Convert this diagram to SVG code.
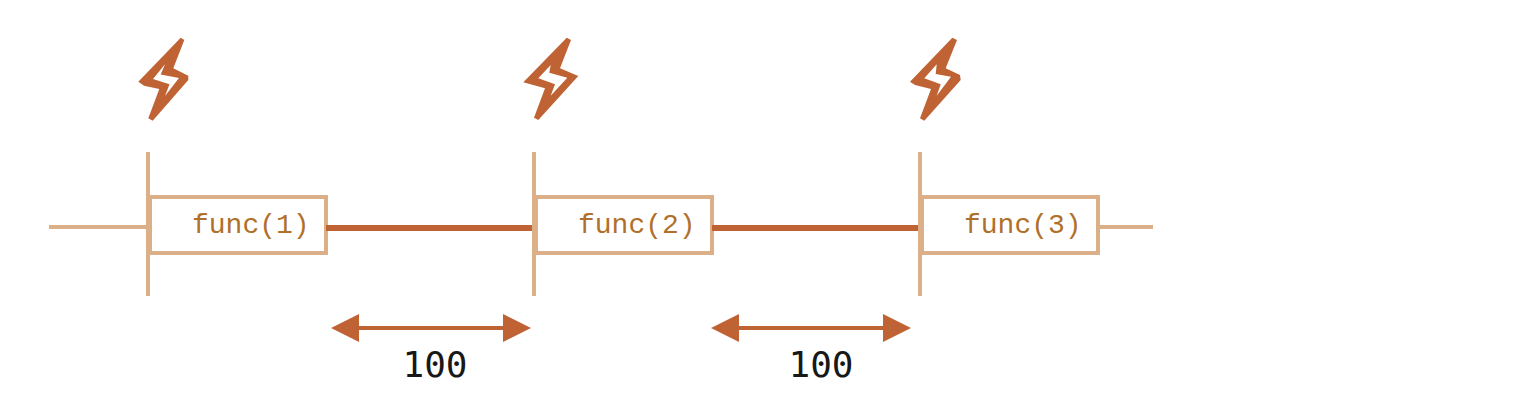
<svg xmlns="http://www.w3.org/2000/svg" width="1540" height="406" viewBox="0 0 1540 406">
<style>
.tick,.thin,.box{stroke:#DBAF88;stroke-width:4;fill:none}
.box{fill:#fff}
.thick{stroke:#C06334;stroke-width:6;fill:none}
.dim{stroke:#C06334;stroke-width:4;fill:none;marker-start:url(#a);marker-end:url(#a)}
.bolt{fill:#C06334;fill-rule:evenodd}
.f{font:28px "Liberation Mono","DejaVu Sans Mono",monospace;fill:#B0702A}
.n{font:36px "DejaVu Sans Mono","Liberation Mono",monospace;fill:#181818;text-anchor:middle}
</style>
<defs>
<marker id="a" markerUnits="userSpaceOnUse" markerWidth="28" markerHeight="28" refX="14" refY="14" orient="auto-start-reverse"><path d="M0 0L28 14L0 28Z" fill="#C06334"/></marker>
</defs>
<g id="bolt1"><path class="bolt" d="M180.7 37.7L184.3 40L173.3 68.3L188.3 75.7L188.3 80L152.7 120.7L148.3 118.3L159.3 89L144 85.7L138.3 81.7ZM165 64.3L153 79L169.5 84.3L165 96L179 78L160.7 74.5Z"/></g>
<g id="bolt2"><path class="bolt" d="M566.7 37.7L571 40L560 68.3L578.3 76L538.3 120L534 117.7L545 88.3L523.3 82.3ZM550.7 65L538.3 78.3L555 84.3L550.7 95.7L567.3 77.7L549.3 72.7Z"/></g>
<g id="bolt3"><path class="bolt" d="M952.3 37.7L957 40L945.7 68.3L960 75L960.7 80L924.3 120.7L920 118.3L931 89L915 85L910 81.7ZM936.7 64.3L924.3 78.3L940.7 84.3L936.7 95.7L951 76.7L935.7 74Z"/></g>
<g id="func1"><rect class="box" x="150" y="197" width="176" height="56"/><text class="f" x="192" y="233">func(1)</text></g>
<g id="func2"><rect class="box" x="536" y="197" width="176" height="56"/><text class="f" x="578" y="233">func(2)</text></g>
<g id="func3"><rect class="box" x="922" y="197" width="176" height="56"/><text class="f" x="964" y="233">func(3)</text></g>
<g id="label1"><text class="n" x="435" y="377">100</text></g>
<g id="label2"><text class="n" x="821" y="377">100</text></g>
<g id="connectors">
<path class="thin" d="M49 227H148"/><path class="thin" d="M1100 227H1153"/>
<path class="thick" d="M326 228H534"/><path class="thick" d="M712 228H920"/>
<path class="tick" d="M148 152V296"/><path class="tick" d="M534 152V296"/><path class="tick" d="M920 152V296"/>
<path class="dim" d="M345 328H517"/><path class="dim" d="M725 328H897"/>
</g>
</svg>
